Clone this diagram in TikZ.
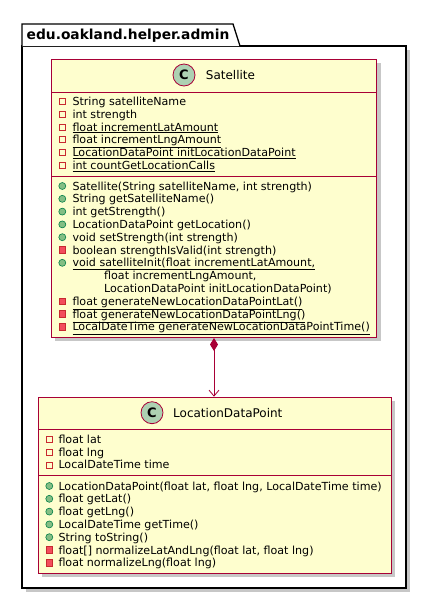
\documentclass[tikz,border=0pt]{standalone}
\usepackage{fontspec}
\setmainfont{DejaVu Sans}
\usetikzlibrary{arrows.meta}
\definecolor{umlred}{HTML}{A80036}
\definecolor{umlfill}{HTML}{FEFECE}
\definecolor{umlcirc}{HTML}{ADD1B2}
\definecolor{privred}{HTML}{C82930}
\definecolor{privfill}{HTML}{F24D5C}
\definecolor{pubgreen}{HTML}{038048}
\definecolor{pubfill}{HTML}{84BE84}

\begin{document}
\begin{tikzpicture}[x=1pt,y=-1pt,
    classbox/.style={draw=umlred,fill=umlfill,line width=1pt,inner sep=0pt,anchor=north west},
    circ/.style={circle,draw=umlred,fill=umlcirc,line width=0.8pt,minimum size=22pt,inner sep=0pt,font=\bfseries\fontsize{13}{13}\selectfont},
    cname/.style={anchor=west,inner sep=0pt,font=\fontsize{12}{12}\selectfont},
    pf/.style={draw=privred,line width=0.8pt,minimum size=6pt,inner sep=0pt},
    pm/.style={draw=privred,fill=privfill,line width=0.6pt,minimum size=6.5pt,inner sep=0pt},
    pu/.style={circle,draw=pubgreen,fill=pubfill,line width=0.6pt,minimum size=7pt,inner sep=0pt},
    mem/.style={anchor=base west,inner sep=0pt,font=\fontsize{11.1}{12}\selectfont},
    shadow/.style={fill=black!22}]
    \useasboundingbox (0,0) rectangle (427,600);

    % package
    \fill[shadow] (26,50) rectangle (410,592);
    \draw[line width=1.3pt,fill=white] (22,46) rectangle (406,588);
    \draw[line width=1.3pt,fill=white] (22,46) -- (22,24) -- (233,24) -- (240,46);
    \node[anchor=west,inner sep=0pt,font=\bfseries\fontsize{13.8}{14}\selectfont] (pkg) at (26.5,35.5) {edu.oakland.helper.admin};

    % Satellite
    \fill[shadow] (55,63) rectangle (381,341);
    \node[classbox,minimum width=325pt,minimum height=278pt] (sat) at (51,59) {};
    \draw[umlred,line width=1pt] (sat.west |- 0,92) -- (sat.east |- 0,92);
    \draw[umlred,line width=1pt] (sat.west |- 0,176) -- (sat.east |- 0,176);
    \node[circ] (satc) at (184,75) {C};
    \node[cname] (satn) at (205.7,75) {Satellite};
    \foreach \y/\k/\t [count=\i] in {
        101.7/pf/{String satelliteName},
        114.4/pf/{int strength},
        127.1/pf/{\underline{float incrementLatAmount}},
        139.8/pf/{\underline{float incrementLngAmount}},
        152.5/pf/{\underline{LocationDataPoint initLocationDataPoint}},
        165.2/pf/{\underline{int countGetLocationCalls}},
        186/pu/{Satellite(String satelliteName, int strength)},
        198.8/pu/{String getSatelliteName()},
        211.6/pu/{int getStrength()},
        224.4/pu/{LocationDataPoint getLocation()},
        237.2/pu/{void setStrength(int strength)},
        250/pm/{boolean strengthIsValid(int strength)},
        262.8/pu/{\underline{void satelliteInit(float incrementLatAmount,}},
        301.2/pm/{\underline{float generateNewLocationDataPointLat()}},
        314/pm/{\underline{float generateNewLocationDataPointLng()}},
        326.8/pm/{\underline{LocalDateTime generateNewLocationDataPointTime()}}}{
        \node[\k] (si\i) at (62.3,\y) {};
        \node[mem] (st\i) at (72.3,\y+4) {\t};
    }
    \node[mem] (sc1) at (104,275.6+4) {float incrementLngAmount,};
    \node[mem] (sc2) at (104,288.4+4) {LocationDataPoint initLocationDataPoint)};

    % LocationDataPoint
    \fill[shadow] (42.3,400.7) rectangle (395,577.3);
    \node[classbox,minimum width=352.4pt,minimum height=176.6pt] (ldp) at (38.3,396.7) {};
    \draw[umlred,line width=1pt] (ldp.west |- 0,429) -- (ldp.east |- 0,429);
    \draw[umlred,line width=1pt] (ldp.west |- 0,475) -- (ldp.east |- 0,475);
    \node[circ] (ldpc) at (152,412.7) {C};
    \node[cname] (ldpn) at (173,412.7) {LocationDataPoint};
    \foreach \y/\k/\t [count=\i] in {
        439.3/pf/{float lat},
        452.1/pf/{float lng},
        464.9/pf/{LocalDateTime time},
        486/pu/{LocationDataPoint(float lat, float lng, LocalDateTime time)},
        498.8/pu/{float getLat()},
        511.6/pu/{float getLng()},
        524.4/pu/{LocalDateTime getTime()},
        537.2/pu/{String toString()},
        550/pm/{float[] normalizeLatAndLng(float lat, float lng)},
        562.8/pm/{float normalizeLng(float lng)}}{
        \node[\k] (li\i) at (49.3,\y) {};
        \node[mem] (lt\i) at (58.3,\y+4) {\t};
    }

    % composition
    \draw[umlred,line width=0.8pt,{Diamond[length=13pt,width=8pt]}-{Straight Barb[length=6pt,width=10pt]}] (sat.south) -- (sat.south |- ldp.north);
\end{tikzpicture}
\end{document}
